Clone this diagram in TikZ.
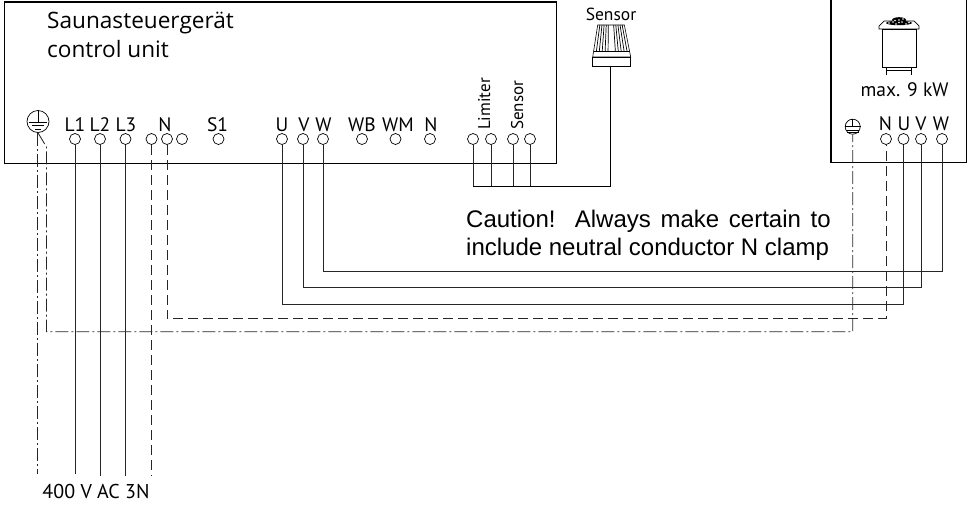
\documentclass[tikz,border=0pt]{standalone}
\usepackage{fontspec}
\setmainfont{PT Sans}
\newfontfamily\arialfont{Liberation Sans}
\newfontfamily\titlefont{Open Sans}
\tikzset{
  term/.style={circle,draw=black,line width=0.7pt,minimum size=11pt,inner sep=0pt},
  earthsym/.style={circle,draw=black,line width=0.7pt,inner sep=0pt},
  box/.style={draw=black,line width=1.2pt},
  wire/.style={draw=black!85,line width=0.85pt},
  thickwire/.style={draw=black,line width=1.3pt},
  dashwire/.style={draw=black!85,line width=0.85pt,dash pattern=on 10pt off 5pt},
  dotwire/.style={draw=black!85,line width=0.85pt,dash pattern=on 13pt off 3pt on 2pt off 3pt},
  lbl/.style={inner sep=0pt,font=\fontsize{19.5}{21}\selectfont,anchor=base},
  rot/.style={inner sep=0pt,font=\fontsize{17}{19}\selectfont,rotate=90,anchor=base west},
  bigl/.style={inner sep=0pt,font=\titlefont\fontsize{22.6}{25}\selectfont,anchor=base west},
  note/.style={inner sep=0pt,font=\arialfont\fontsize{24}{27}\selectfont,anchor=base west},
}
\begin{document}
\begin{tikzpicture}[x=1pt,y=-1pt]
\useasboundingbox (0,0) rectangle (971,504);
% boxes
\draw[box] (4.5,2) -- (556.5,2) -- (556.5,163.5) -- (4.5,163.5) -- cycle;
\draw[box] (831,-2) -- (831,162.7) -- (966.7,162.7) -- (966.7,-2);
% left terminals
\node[earthsym,minimum size=22pt] (PE) at (38,121.5) {};
\foreach \n/\x in {L1/75,L2/100,L3/125.5,Na/151.5,Nb/167,Nc/182,S1/218.5,U/282,V/303,W/323,WB/362,WM/395.5,Nd/430,La/473,Lb/491,Sa/513,Sb/530}
  \node[term] (\n) at (\x,139) {};
\foreach \n/\x in {rN/886,rU/903.5,rV/921,rW/942}
  \node[term] (\n) at (\x,139) {};
\node[earthsym,minimum size=15pt] (rPE) at (852.7,126.7) {};
% earth symbols
\draw[line width=0.7pt] (PE.north) -- (38,122);
\draw[line width=0.7pt] (29,122) -- (47,122) (32,125.5) -- (44,125.5) (35,129) -- (41,129);
\draw[line width=0.7pt] (rPE.north) -- (852.7,127) (rPE.west) -- (rPE.east) (846.5,130) -- (859,130) (847,132.5) -- (858.5,132.5);
% labels
\node[lbl] (tL1) at (75,131.5) {L1};
\node[lbl] (tL2) at (100,131.5) {L2};
\node[lbl] (tL3) at (126,131.5) {L3};
\node[lbl] (tN1) at (165,131.5) {N};
\node[lbl] (tS1) at (217.5,131.5) {S1};
\node[lbl] (tU) at (282,131.5) {U};
\node[lbl] (tV) at (304,131.5) {V};
\node[lbl] (tW) at (323.5,131.5) {W};
\node[lbl] (tWB) at (362,131.5) {WB};
\node[lbl] (tWM) at (398,131.5) {WM};
\node[lbl] (tN2) at (431,131.5) {N};
\node[rot] (tLim) at (490,130) {Limiter};
\node[rot] (tSen) at (523,130) {Sensor};
\node[lbl] (trN) at (885.5,130) {N};
\node[lbl] (trU) at (904,130) {U};
\node[lbl] (trV) at (921,130) {V};
\node[lbl] (trW) at (941,130) {W};
\node[bigl] (title1) at (47,28.5) {Saunasteuergerät};
\node[bigl] (title2) at (47,57) {control unit};
\node[inner sep=0pt,font=\fontsize{17.5}{19}\selectfont,anchor=base] (tsens) at (611,20) {Sensor};
\node[inner sep=0pt,font=\fontsize{19.5}{21}\selectfont,anchor=base] (tkw) at (904.5,96) {max. 9 kW};
\node[note] (c1) at (466,227.3) {\makebox[364.5pt][s]{Caution!\ \ Always make certain to}};
\node[note] (c2) at (466,255) {include neutral conductor N clamp};
\node[inner sep=0pt,font=\fontsize{20}{22}\selectfont,anchor=base] (tAC) at (96,498) {400 V AC 3N};
% end coordinates
\coordinate (eL1) at (74,474);
\coordinate (eL2) at (99.5,476);
\coordinate (eL3) at (125.5,476);
\coordinate (eNa) at (151,476);
\coordinate (ePE) at (37,474);
% mains
\draw[wire] (L1.south) -- (L1.south |- eL1);
\draw[wire] (L2.south) -- (L2.south |- eL2);
\draw[wire] (L3.south) -- (L3.south |- eL3);
\draw[dashwire] (Na.south) -- (Na.south |- eNa);
\draw[dotwire] (PE.south -| ePE) -- (ePE);
% through wires
\draw[dashwire] (Nb.south) -- (167,318.5) -- (886,318.5) -- (rN.south);
\draw[dotwire] (PE.south) -- (46.5,147) -- (46.5,331.7) -- (852.7,331.7) -- (rPE.south);
\draw[wire] (U.south) -- (282,304) -- (903.5,304) -- (rU.south);
\draw[wire] (V.south) -- (303,287.3) -- (921,287.3) -- (rV.south);
\draw[wire] (W.south) -- (323,271.7) -- (942,271.7) -- (rW.south);
% sensor
\node[draw=black,line width=0.7pt,minimum width=38pt,minimum height=9.5pt,inner sep=0pt] (sbase) at (611.7,62) {};
\draw[line width=0.6pt] (597.7,25) -- (624.3,25) -- (630.7,57) -- (592.7,57) -- cycle;
\foreach \t in {0.08,0.16,0.24,0.32,0.40,0.60,0.68,0.76,0.84,0.92}
  \draw[line width=0.7pt] ({597.7+26.6*\t},25) -- ({593.5+36.4*\t},51);
\draw[line width=0.5pt] (594,51) -- (629.5,51);
\draw[wire] (La.south) -- (473,186.3);
\draw[wire] (Lb.south) -- (491,186.3);
\draw[wire] (Sa.south) -- (513,186.3);
\draw[wire] (Sb.south) -- (530,186.3);
\draw[thickwire] (473,186.3) -- (610.7,186.3) -- (sbase.south -| 610.7,0);
% heater
\draw[line width=0.7pt] (882.3,29) rectangle (916,67);
\draw[line width=0.7pt] (880,29) -- (919,29) -- (919,26) -- (914,21) -- (884,21) -- (879,26) -- (879,29) -- cycle;
\draw[line width=0.7pt] (886,67) -- (886,75) (911.7,67) -- (911.7,75) (886,70.5) -- (911.7,70.5);
\fill[black] (899,23) ellipse (13 and 2.2);
\fill[black] (899,20) ellipse (7 and 2.8);
\foreach \a/\b in {889/23,893/22,896/24,902/22,906/24,909/22.5,899/20,895/20.5,903/19,899/22.5}
  \fill[white] (\a,\b) circle (0.8);
\end{tikzpicture}
\end{document}
